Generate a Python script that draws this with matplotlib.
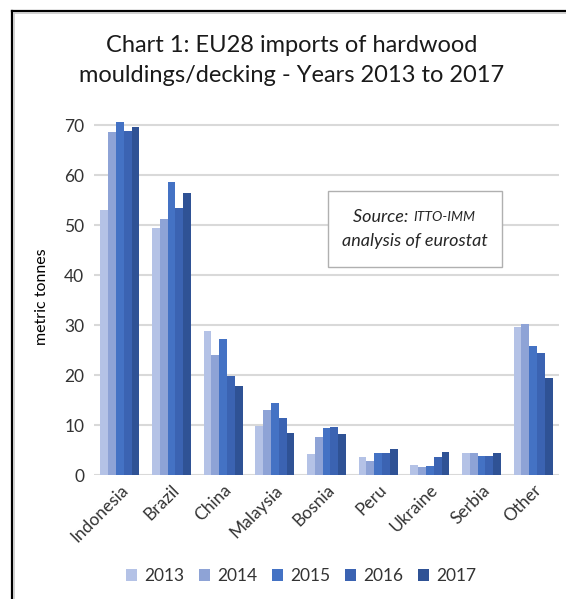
import matplotlib
matplotlib.use("Agg")
import matplotlib.pyplot as plt
import numpy as np
from matplotlib.lines import Line2D
from matplotlib.patches import Rectangle

plt.rcParams['font.family'] = ['Lato', 'DejaVu Sans']

categories = ["Indonesia", "Brazil", "China", "Malaysia", "Bosnia",
              "Peru", "Ukraine", "Serbia", "Other"]
years = ["2013", "2014", "2015", "2016", "2017"]
v2013 = [53.0, 49.4, 28.8, 9.8, 4.2, 3.6, 2.1, 4.4, 29.6]
v2014 = [68.6, 51.2, 24.0, 13.0, 7.6, 2.8, 1.7, 4.4, 30.2]
v2015 = [70.6, 58.6, 27.2, 14.4, 9.4, 4.4, 1.9, 3.8, 25.8]
v2016 = [68.8, 53.4, 19.8, 11.4, 9.6, 4.5, 3.6, 3.8, 24.4]
v2017 = [69.6, 56.4, 17.8, 8.4, 8.3, 5.3, 4.7, 4.4, 19.4]
series = [v2013, v2014, v2015, v2016, v2017]
colors = ["#b4c2e6", "#8ea3d6", "#4472c4", "#3b63b2", "#2f5295"]
yticks = [0, 10, 20, 30, 40, 50, 60, 70]

W, H = 566, 599
fig = plt.figure(figsize=(W / 100, H / 100), dpi=100)
fig.patch.set_facecolor("white")

# outer frame (left and top edges with a faint inner shadow)
fig.add_artist(Line2D([11.5 / W, 11.5 / W], [0, 1 - 10.5 / H], color="black", lw=1.6,
                      transform=fig.transFigure))
fig.add_artist(Line2D([11.5 / W, 1], [1 - 10.5 / H, 1 - 10.5 / H], color="black", lw=1.6,
                      transform=fig.transFigure))
fig.add_artist(Line2D([13.5 / W, 13.5 / W], [0, 1 - 12.5 / H], color="#c8c8c8", lw=1.2,
                      transform=fig.transFigure))
fig.add_artist(Line2D([13.5 / W, 1], [1 - 12.5 / H, 1 - 12.5 / H], color="#c8c8c8", lw=1.2,
                      transform=fig.transFigure))

left, right = 94 / W, 559 / W
bottom = 1 - 475 / H
ymax = 71.5
top_px = 475 - ymax * 5.0
ax = fig.add_axes([left, bottom, right - left, (475 - top_px) / H])

x = np.arange(len(categories))
group = 0.76
bw = group / len(series)
for i, (vals, c, yr) in enumerate(zip(series, colors, years)):
    ax.bar(x - group / 2 + bw * (i + 0.5), vals, width=bw, color=c, label=yr,
           zorder=3, linewidth=0)

ax.set_xlim(-0.5, len(categories) - 0.5)
ax.set_ylim(0, ymax)
ax.set_yticks(yticks)
for t in yticks:
    ax.axhline(t, color="#d9d9d9", lw=1.5, zorder=1)
for s in ax.spines.values():
    s.set_visible(False)
ax.tick_params(axis="both", length=0, labelsize=12.5, colors="#333333")
ax.tick_params(axis="y", pad=7)
ax.set_xticks(x)
ax.set_xticklabels(categories, rotation=45, ha="right", rotation_mode="anchor",
                   fontsize=12.5, color="#333333")
ax.tick_params(axis="x", pad=5)
ax.set_ylabel("metric tonnes", fontsize=11.5, color="black", labelpad=11)

fig.text(292 / W, 1 - 45 / H, "Chart 1: EU28 imports of hardwood",
         ha="center", va="center", fontsize=17, color="#1a1a1a")
fig.text(292 / W, 1 - 75 / H, "mouldings/decking - Years 2013 to 2017",
         ha="center", va="center", fontsize=17, color="#1a1a1a")

# source note box
fig.add_artist(Rectangle((328 / W, 1 - 267 / H), 174 / W, 76 / H,
                         transform=fig.transFigure, facecolor="white",
                         edgecolor="#b0b0b0", lw=1.0, zorder=5))
fig.text(413 / W, 1 - 217 / H, "Source: ", ha="right", va="center", fontsize=13,
         style="italic", color="#262626", zorder=6)
fig.text(413 / W, 1 - 217 / H, "ITTO-IMM", ha="left", va="center", fontsize=10,
         style="italic", color="#262626", zorder=6)
fig.text(415 / W, 1 - 241 / H, "analysis of eurostat", ha="center", va="center",
         fontsize=13, style="italic", color="#262626", zorder=6)

leg = fig.legend(loc="center", bbox_to_anchor=(301 / W, 1 - 576 / H), ncol=5,
                 frameon=False, fontsize=12.5, handlelength=0.65, handleheight=0.65,
                 handletextpad=0.4, columnspacing=0.85)
for t in leg.get_texts():
    t.set_color("#333333")

fig.savefig("out.png", dpi=100, facecolor="white")
